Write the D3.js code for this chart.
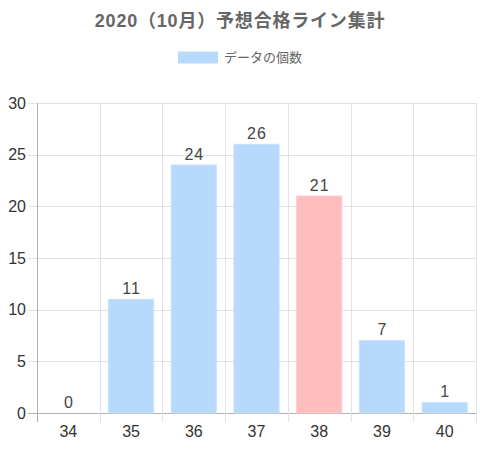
<!DOCTYPE html>
<html>
<head>
<meta charset="utf-8">
<script src="https://cdn.jsdelivr.net/npm/d3@7"></script>
<style>
  body { margin: 0; background: #fff; }
  svg { font-family: "Liberation Sans", Arial, "Noto Sans CJK JP", sans-serif; }
</style>
</head>
<body>
<div id="vis"></div>
<script>
const width = 480;
const height = 450;
const margin = { top: 103, right: 4, bottom: 37, left: 37 };

// Data
const scores = ["34", "35", "36", "37", "38", "39", "40"];
const counts = [0, 11, 24, 26, 21, 7, 1];
const highlight = "38";
const yTicks = [0, 5, 10, 15, 20, 25, 30];

const title = "2020（10月）予想合格ライン集計";
const legendLabel = "データの個数";

const svg = d3.select("#vis")
  .append("svg")
  .attr("width", width)
  .attr("height", height);

const xScale = d3.scaleBand()
  .domain(scores)
  .range([margin.left, width - margin.right])
  .paddingInner(0.28)
  .paddingOuter(0.14);

const xEdge = d3.scaleLinear()
  .domain([0, scores.length])
  .range([margin.left, width - margin.right]);

const yScale = d3.scaleLinear()
  .domain([0, 30])
  .range([height - margin.bottom, margin.top]);

// Title
svg.append("text")
  .attr("x", width / 2)
  .attr("y", 26.5)
  .attr("text-anchor", "middle")
  .attr("font-size", 18)
  .attr("letter-spacing", 0.8)
  .attr("font-weight", "bold")
  .attr("fill", "#666")
  .text(title);

// Legend
const legend = svg.append("g");
legend.append("rect")
  .attr("x", 178).attr("y", 51.5)
  .attr("width", 40).attr("height", 12)
  .attr("fill", "#b6d9fc");
legend.append("text")
  .attr("x", 224).attr("y", 62)
  .attr("font-size", 13)
  .attr("fill", "#666")
  .text(legendLabel);

// Horizontal grid
svg.append("g")
  .selectAll("line")
  .data(yTicks)
  .join("line")
  .attr("x1", margin.left - 9)
  .attr("x2", width - margin.right)
  .attr("y1", d => Math.round(yScale(d)) + 0.5)
  .attr("y2", d => Math.round(yScale(d)) + 0.5)
  .attr("stroke", d => d === 0 ? "#b0b0b0" : "#e2e2e2");

// Vertical grid (category boundaries)
svg.append("g")
  .selectAll("line")
  .data(d3.range(scores.length + 1))
  .join("line")
  .attr("x1", d => Math.round(xEdge(d)) + 0.5)
  .attr("x2", d => Math.round(xEdge(d)) + 0.5)
  .attr("y1", margin.top)
  .attr("y2", height - margin.bottom + 9)
  .attr("stroke", d => d === 0 ? "#b0b0b0" : "#e2e2e2");

// Y labels
svg.append("g")
  .selectAll("text")
  .data(yTicks)
  .join("text")
  .attr("x", 26)
  .attr("y", d => yScale(d) + 5.5)
  .attr("text-anchor", "end")
  .attr("font-size", 16)
  .attr("fill", "#333")
  .text(d => d);

// X labels
svg.append("g")
  .selectAll("text")
  .data(scores)
  .join("text")
  .attr("x", d => xScale(d) + xScale.bandwidth() / 2)
  .attr("y", 437)
  .attr("text-anchor", "middle")
  .attr("font-size", 16)
  .attr("fill", "#333")
  .text(d => d);

// Bars
const rows = scores.map((s, i) => ({ score: s, count: counts[i] }));

svg.append("g")
  .selectAll("rect")
  .data(rows)
  .join("rect")
  .attr("x", d => xScale(d.score))
  .attr("y", d => yScale(d.count))
  .attr("width", xScale.bandwidth())
  .attr("height", d => yScale(0) - yScale(d.count))
  .attr("fill", d => d.score === highlight ? "#ffbdbe" : "#b6d9fc")
  .attr("stroke", d => d.score === highlight ? "#ffcccc" : "#c8e2fc")
  .attr("stroke-width", 1);

// Value labels
svg.append("g")
  .selectAll("text")
  .data(rows)
  .join("text")
  .attr("x", d => xScale(d.score) + xScale.bandwidth() / 2 + 0.5)
  .attr("y", d => yScale(d.count) - 5.5)
  .attr("text-anchor", "middle")
  .attr("font-size", 16)
  .attr("letter-spacing", 1)
  .attr("fill", "#444")
  .text(d => d.count);
</script>
</body>
</html>
